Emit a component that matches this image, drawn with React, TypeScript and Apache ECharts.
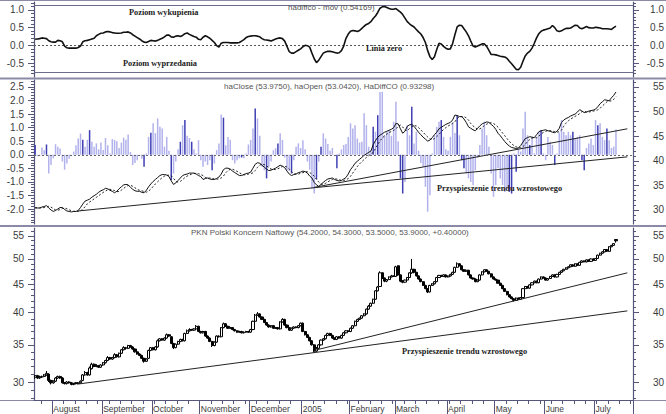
import React, { useEffect, useRef } from "react";
import * as echarts from "echarts";

// ---------- DATA ----------
const closes = [
  30.8, 30.5, 30.6, 30.7, 30.9, 31.1, 30.2, 29.9, 30.1, 30.5,
  30.7, 30.5, 29.9, 29.8, 30.0, 29.9, 29.7, 29.8, 29.8, 29.9,
  30.1, 30.9, 31.2, 30.9, 31.8, 32.3, 32.0, 32.1, 31.9, 32.2,
  32.5, 32.8, 33.2, 33.0, 33.2, 33.6, 33.3, 33.8, 34.3, 34.6,
  34.5, 34.9, 34.7, 34.4, 34.0, 33.7, 33.5, 33.1, 32.7, 33.0,
  34.2, 34.6, 34.3, 34.7, 35.6, 35.9, 35.7, 36.0, 36.5, 36.3,
  35.2, 34.6, 35.1, 35.5, 35.8, 35.6, 36.7, 37.1, 37.3, 37.2,
  37.4, 37.8, 37.0, 36.8, 37.0, 36.3, 36.0, 35.5, 34.9, 35.4,
  36.3, 36.2, 37.6, 38.2, 37.8, 37.5, 37.6, 37.3, 37.1, 36.9,
  37.0, 36.8, 36.9, 37.0, 36.9, 37.3, 38.6, 39.6, 39.8, 39.3,
  38.9, 38.4, 38.0, 37.7, 37.9, 37.5, 37.6, 37.4, 38.5, 38.9,
  38.0, 37.6, 37.2, 37.5, 37.7, 37.6, 37.9, 38.3, 37.0, 36.5,
  36.1, 35.6, 35.0, 34.1, 34.5, 35.0, 35.7, 35.9, 36.4, 36.7,
  36.4, 36.0, 35.8, 36.2, 36.0, 36.4, 36.8, 37.1, 37.0, 37.5,
  37.9, 38.6, 38.9, 39.1, 39.5, 39.8, 40.6, 41.1, 41.6, 42.3,
  43.8, 44.5, 47.2, 46.2, 45.6, 45.9, 46.4, 46.6, 46.5, 48.4,
  46.8, 45.6, 45.4, 45.8, 46.3, 47.2, 47.9, 47.3, 46.6, 46.0,
  45.5, 44.8, 44.2, 43.6, 44.8, 45.1, 45.5, 46.3, 46.7, 46.5,
  46.8, 46.4, 46.6, 46.9, 47.3, 48.3, 49.0, 48.6, 47.8, 47.5,
  47.7, 46.8, 46.2, 46.0, 45.5, 45.8, 46.8, 47.4, 47.8, 47.5,
  47.0, 46.4, 46.0, 45.8, 45.2, 44.8, 44.2, 43.7, 43.1, 42.7,
  42.4, 42.1, 42.5, 42.3, 42.6, 44.2, 44.6, 44.3, 44.9, 45.3,
  45.6, 45.3, 46.0, 46.4, 46.2, 45.8, 46.1, 46.5, 46.8, 46.4,
  46.9, 47.3, 47.6, 47.9, 48.2, 48.4, 48.8, 48.5, 49.0, 48.7,
  49.3, 49.6, 49.4, 49.8, 49.5, 50.0, 49.7, 50.1, 50.8, 51.2,
  51.5, 52.0, 51.6, 52.6, 52.9, 53.3, 53.9,
];

const opens = [
  30.6, 30.8, 30.5, 30.6, 30.7, 30.9, 31.0, 30.2, 29.9, 30.1,
  30.5, 30.7, 30.5, 29.9, 29.8, 30.0, 29.9, 29.7, 29.9, 29.8,
  29.9, 30.2, 30.9, 31.2, 30.9, 31.7, 32.3, 32.0, 32.1, 31.9,
  32.2, 32.5, 32.8, 33.2, 33.0, 33.2, 33.6, 33.3, 33.8, 34.3,
  34.6, 34.5, 34.9, 34.7, 34.4, 34.0, 33.7, 33.5, 33.1, 32.7,
  33.1, 34.2, 34.6, 34.3, 34.7, 35.6, 35.9, 35.7, 36.0, 36.5,
  36.2, 35.2, 34.6, 35.1, 35.5, 35.8, 35.6, 36.7, 37.1, 37.3,
  37.2, 37.4, 37.8, 37.0, 36.8, 37.0, 36.3, 36.0, 35.5, 34.9,
  35.4, 36.3, 36.2, 37.6, 38.2, 37.8, 37.5, 37.6, 37.3, 37.1,
  36.9, 37.0, 36.8, 36.9, 37.0, 36.9, 37.3, 38.6, 39.6, 39.8,
  39.3, 38.9, 38.4, 38.0, 37.7, 37.9, 37.5, 37.6, 37.4, 38.5,
  38.9, 38.0, 37.6, 37.2, 37.5, 37.7, 37.6, 37.9, 38.3, 37.0,
  36.5, 36.1, 35.6, 35.0, 34.1, 34.5, 35.0, 35.7, 35.9, 36.4,
  36.7, 36.4, 36.0, 35.8, 36.2, 36.0, 36.4, 36.8, 37.1, 37.0,
  37.5, 37.9, 38.6, 38.9, 39.1, 39.5, 39.8, 40.6, 41.1, 41.6,
  42.3, 43.8, 44.6, 47.2, 46.2, 45.6, 45.9, 46.4, 46.6, 46.5,
  48.6, 46.8, 45.6, 45.4, 45.8, 46.3, 47.2, 47.9, 47.3, 46.6,
  46.0, 45.5, 44.8, 44.2, 43.6, 44.8, 45.1, 45.5, 46.3, 46.7,
  46.5, 46.8, 46.4, 46.6, 46.9, 47.3, 48.3, 49.0, 48.6, 47.8,
  47.5, 47.7, 46.8, 46.2, 46.0, 45.5, 45.8, 46.8, 47.4, 47.8,
  47.5, 47.0, 46.4, 46.0, 45.8, 45.2, 44.8, 44.2, 43.7, 43.1,
  42.7, 42.4, 42.1, 42.5, 42.3, 42.6, 44.2, 44.6, 44.3, 44.9,
  45.3, 45.6, 45.3, 46.0, 46.4, 46.2, 45.8, 46.1, 46.5, 46.8,
  46.4, 46.9, 47.3, 47.6, 47.9, 48.2, 48.4, 48.8, 48.5, 49.0,
  48.7, 49.3, 49.6, 49.4, 49.8, 49.5, 50.0, 49.7, 50.1, 50.8,
  51.2, 51.5, 52.0, 51.6, 52.6, 52.9, 54.2,
];

const highs = [
  30.9, 30.9, 30.8, 30.8, 31.0, 31.4, 31.1, 30.3, 30.2, 30.6,
  30.8, 30.8, 30.6, 30.0, 30.1, 30.1, 30.0, 29.9, 30.0, 30.0,
  30.2, 31.0, 31.4, 31.3, 32.0, 32.5, 32.4, 32.3, 32.2, 32.3,
  32.6, 32.9, 33.4, 33.3, 33.3, 33.8, 33.7, 33.9, 34.4, 34.8,
  34.7, 35.0, 35.0, 34.8, 34.5, 34.1, 33.8, 33.6, 33.2, 33.1,
  34.3, 34.7, 34.7, 34.8, 35.8, 36.0, 36.0, 36.1, 36.7, 36.6,
  36.3, 35.3, 35.2, 35.6, 35.9, 35.9, 36.8, 37.3, 37.5, 37.4,
  37.5, 38.0, 37.9, 37.1, 37.1, 37.1, 36.4, 36.1, 35.6, 35.5,
  36.4, 36.4, 37.7, 38.4, 38.3, 37.9, 37.7, 37.7, 37.4, 37.2,
  37.1, 37.1, 37.0, 37.1, 37.1, 37.4, 38.7, 39.8, 40.1, 39.9,
  39.4, 39.0, 38.5, 38.1, 38.0, 38.0, 37.7, 37.7, 38.6, 39.1,
  39.0, 38.1, 37.7, 37.6, 37.8, 37.8, 38.0, 38.4, 38.4, 37.1,
  36.6, 36.2, 35.7, 35.1, 34.7, 35.1, 35.8, 36.0, 36.5, 36.8,
  36.8, 36.5, 36.1, 36.3, 36.3, 36.5, 36.9, 37.2, 37.2, 37.6,
  38.0, 38.7, 39.0, 39.2, 39.6, 39.9, 40.7, 41.3, 41.7, 42.4,
  43.9, 44.7, 47.5, 47.3, 46.3, 46.0, 46.5, 46.8, 46.7, 48.6,
  48.7, 46.9, 45.8, 45.9, 46.4, 47.3, 50.0, 48.0, 47.4, 46.7,
  46.1, 45.6, 44.9, 44.3, 44.9, 45.2, 45.6, 46.4, 46.8, 46.8,
  46.9, 46.9, 46.7, 47.0, 47.4, 48.4, 49.3, 49.1, 48.7, 47.9,
  47.8, 47.8, 46.9, 46.3, 46.1, 45.9, 46.9, 47.5, 47.9, 47.9,
  47.6, 47.1, 46.5, 46.1, 45.9, 45.3, 44.9, 44.3, 43.8, 43.2,
  42.8, 42.5, 42.6, 42.6, 42.7, 44.3, 44.7, 44.7, 45.0, 45.4,
  45.7, 45.7, 46.1, 46.5, 46.5, 46.3, 46.2, 46.6, 46.9, 46.9,
  47.0, 47.4, 47.7, 48.0, 48.3, 48.5, 48.9, 48.9, 49.1, 49.1,
  49.4, 49.7, 49.7, 49.9, 49.9, 50.1, 50.1, 50.2, 50.9, 51.3,
  51.6, 52.1, 52.1, 52.7, 53.0, 53.4, 54.3,
];

const lows = [
  30.4, 30.4, 30.4, 30.5, 30.6, 30.8, 30.0, 29.7, 29.8, 30.0,
  30.4, 30.4, 29.8, 29.7, 29.7, 29.8, 29.6, 29.6, 29.7, 29.7,
  29.8, 30.1, 30.8, 30.8, 30.8, 31.6, 31.9, 31.9, 31.8, 31.8,
  32.1, 32.4, 32.7, 32.9, 32.9, 33.1, 33.2, 33.2, 33.7, 34.2,
  34.3, 34.4, 34.6, 34.3, 33.9, 33.6, 33.4, 33.0, 32.5, 32.6,
  33.0, 34.1, 34.2, 34.2, 34.6, 35.5, 35.6, 35.6, 35.9, 36.2,
  35.1, 34.4, 34.5, 35.0, 35.4, 35.5, 35.5, 36.6, 37.0, 37.1,
  37.1, 37.3, 36.9, 36.7, 36.7, 36.2, 35.9, 35.4, 34.7, 34.8,
  35.3, 36.1, 36.1, 37.5, 37.7, 37.4, 37.4, 37.2, 37.0, 36.8,
  36.8, 36.7, 36.7, 36.8, 36.8, 36.8, 37.2, 38.5, 39.5, 39.2,
  38.8, 38.3, 37.9, 37.6, 37.6, 37.4, 37.4, 37.3, 37.3, 38.4,
  37.9, 37.5, 37.1, 37.1, 37.4, 37.5, 37.5, 37.8, 36.9, 36.4,
  36.0, 35.5, 34.9, 33.9, 34.0, 34.4, 34.9, 35.6, 35.8, 36.3,
  36.3, 35.9, 35.7, 35.7, 35.9, 35.9, 36.3, 36.7, 36.9, 36.9,
  37.4, 37.8, 38.5, 38.8, 39.0, 39.4, 39.7, 40.5, 41.0, 41.5,
  42.2, 43.7, 44.5, 46.0, 45.4, 45.4, 45.8, 46.3, 46.4, 46.4,
  46.6, 45.4, 45.2, 45.3, 45.7, 46.2, 47.0, 47.1, 46.5, 45.9,
  45.4, 44.7, 44.1, 43.4, 43.5, 44.7, 45.0, 45.4, 46.2, 46.4,
  46.4, 46.3, 46.3, 46.5, 46.8, 47.2, 48.2, 48.5, 47.7, 47.4,
  47.4, 46.7, 46.1, 45.9, 45.4, 45.4, 45.7, 46.7, 47.3, 47.4,
  46.9, 46.3, 45.9, 45.7, 45.1, 44.7, 44.1, 43.6, 43.0, 42.6,
  42.3, 41.9, 42.0, 42.2, 42.2, 42.5, 44.1, 44.2, 44.2, 44.8,
  45.2, 45.2, 45.2, 45.9, 46.1, 45.7, 45.7, 46.0, 46.4, 46.3,
  46.3, 46.8, 47.2, 47.5, 47.8, 48.1, 48.3, 48.4, 48.4, 48.6,
  48.6, 49.2, 49.3, 49.3, 49.4, 49.4, 49.6, 49.6, 50.0, 50.7,
  51.1, 51.4, 51.5, 51.5, 52.5, 52.8, 53.5,
];

const haClose = [
  30.4, 30.4, 30.4, 30.6, 30.7, 30.9, 30.4, 30.0, 29.7, 29.9,
  30.2, 30.5, 30.5, 30.1, 29.8, 29.7, 29.6, 29.7, 29.7, 29.9,
  30.5, 31.2, 31.8, 32.0, 32.2, 32.6, 32.9, 33.2, 33.6, 33.9,
  34.1, 34.4, 34.3, 34.0, 33.8, 33.5, 33.8, 34.3, 34.7, 35.1,
  35.2, 35.1, 34.6, 34.2, 33.9, 33.8, 33.8, 33.6, 33.5, 34.0,
  34.7, 35.3, 35.8, 36.2, 36.6, 37.0, 37.2, 37.2, 37.1, 36.8,
  35.9, 35.2, 35.5, 36.0, 36.5, 37.0, 37.2, 37.3, 37.5, 37.5,
  37.5, 37.3, 37.0, 36.8, 36.2, 36.4, 36.5, 36.3, 36.2, 36.2,
  36.4, 36.7, 37.3, 38.2, 38.5, 38.5, 38.3, 37.9, 37.6, 37.3,
  37.0, 37.0, 37.2, 37.4, 37.5, 37.7, 38.5, 39.3, 39.6, 39.5,
  39.1, 38.7, 38.3, 38.0, 38.1, 38.3, 38.5, 38.8, 39.1, 38.9,
  38.6, 37.9, 37.3, 37.0, 37.2, 37.3, 37.6, 37.7, 37.9, 37.8,
  37.5, 36.9, 36.5, 35.6, 35.1, 34.8, 35.2, 35.6, 36.0, 36.3,
  36.4, 36.5, 36.2, 36.0, 35.9, 36.0, 36.3, 36.6, 37.3, 38.2,
  38.8, 39.5, 39.9, 40.3, 40.7, 41.1, 41.4, 41.7, 42.0, 43.3,
  44.1, 44.8, 45.2, 45.5, 45.8, 46.0, 46.2, 46.4, 46.7, 47.6,
  47.5, 46.5, 45.6, 46.0, 47.0, 47.3, 47.4, 47.0, 46.4, 45.8,
  45.3, 44.8, 44.4, 44.0, 44.2, 44.7, 45.3, 45.8, 46.5, 46.8,
  47.1, 47.4, 47.6, 47.8, 48.3, 49.3, 49.2, 49.0, 49.0, 48.5,
  47.8, 46.9, 46.6, 46.3, 46.1, 46.6, 47.1, 47.5, 47.7, 47.9,
  47.8, 47.4, 47.0, 46.4, 45.6, 45.1, 44.5, 43.9, 43.4, 43.0,
  42.7, 42.6, 42.5, 42.6, 43.1, 43.8, 44.5, 44.7, 44.9, 44.8,
  44.7, 45.3, 45.9, 46.1, 46.2, 46.3, 46.1, 46.0, 45.8, 45.7,
  46.0, 46.6, 47.8, 48.3, 48.6, 48.8, 49.1, 49.3, 49.5, 49.9,
  50.4, 50.1, 49.8, 49.9, 50.1, 50.2, 50.3, 50.5, 51.0, 51.6,
  52.0, 52.4, 52.3, 52.2, 52.8, 53.3, 53.975,
];

const haOpen = [
  30.5, 30.45, 30.43, 30.41, 30.5, 30.6, 30.75, 30.58, 30.29, 30.0,
  29.95, 30.08, 30.29, 30.4, 30.25, 30.03, 29.86, 29.73, 29.72, 29.71,
  29.8, 30.15, 30.68, 31.24, 31.62, 31.91, 32.26, 32.58, 32.89, 33.25,
  33.57, 33.84, 34.12, 34.21, 34.1, 33.95, 33.73, 33.76, 34.03, 34.37,
  34.73, 34.97, 35.03, 34.82, 34.51, 34.2, 34.0, 33.9, 33.75, 33.62,
  33.81, 34.26, 34.78, 35.29, 35.74, 36.17, 36.58, 36.89, 37.05, 37.07,
  36.94, 36.42, 35.81, 35.66, 35.83, 36.16, 36.58, 36.89, 37.1, 37.3,
  37.4, 37.45, 37.38, 37.19, 37.0, 36.6, 36.5, 36.5, 36.4, 36.3,
  36.25, 36.33, 36.51, 36.9, 37.55, 38.03, 38.26, 38.28, 38.09, 37.85,
  37.57, 37.29, 37.14, 37.17, 37.29, 37.39, 37.55, 38.02, 38.66, 39.13,
  39.32, 39.21, 38.95, 38.63, 38.31, 38.2, 38.25, 38.38, 38.59, 38.84,
  38.87, 38.74, 38.32, 37.81, 37.4, 37.3, 37.3, 37.45, 37.58, 37.74,
  37.77, 37.63, 37.27, 36.88, 36.24, 35.67, 35.23, 35.22, 35.41, 35.7,
  36.0, 36.2, 36.35, 36.28, 36.14, 36.02, 36.01, 36.15, 36.38, 36.84,
  37.52, 38.16, 38.83, 39.37, 39.83, 40.27, 40.68, 41.04, 41.37, 41.69,
  42.49, 43.3, 44.05, 44.62, 45.06, 45.43, 45.72, 45.96, 46.18, 46.44,
  47.02, 47.26, 46.88, 46.24, 46.12, 46.56, 46.93, 47.17, 47.08, 46.74,
  46.27, 45.78, 45.29, 44.85, 44.42, 44.31, 44.5, 44.9, 45.35, 45.92,
  46.36, 46.73, 47.06, 47.33, 47.57, 47.93, 48.62, 48.91, 48.95, 48.98,
  48.74, 48.27, 47.58, 47.09, 46.7, 46.4, 46.5, 46.8, 47.15, 47.43,
  47.66, 47.73, 47.57, 47.28, 46.84, 46.22, 45.66, 45.08, 44.49, 43.95,
  43.47, 43.09, 42.84, 42.67, 42.64, 42.87, 43.33, 43.92, 44.31, 44.6,
  44.7, 44.7, 45.0, 45.45, 45.77, 45.99, 46.14, 46.12, 46.06, 45.93,
  45.82, 45.91, 46.25, 47.03, 47.66, 48.13, 48.47, 48.78, 49.04, 49.27,
  49.59, 49.99, 50.05, 49.92, 49.91, 50.0, 50.1, 50.2, 50.35, 50.67,
  51.14, 51.57, 51.98, 52.14, 52.17, 52.49, 53.042,
];

const haDiffCO = [
  0.36, -0.05, -0.04, 0.27, 0.17, 0.38, -0.69, -0.38, -0.13, 0.39,
  0.30, 0.23, -0.25, -0.55, -0.32, -0.15, -0.05, 0.12, 0.35, 0.60,
  0.78, 0.55, 0.30, 0.55, 0.91, 0.48, 0.30, 0.42, 0.20, 0.45,
  0.18, 0.62, 0.35, 0.05, 0.58, 0.55, 0.50, 0.25, 0.45, 0.63,
  0.55, 0.75, 0.10, -0.38, -0.30, -0.20, -0.05, -0.15, -0.44, 0.05,
  0.66, 0.81, 1.16, 0.80, 1.34, 1.03, 0.97, 0.30, 0.66, 0.15,
  -0.93, -0.69, -0.25, 0.20, 0.48, 1.09, 1.28, 0.70, 0.62, 0.48,
  0.20, 0.05, 0.54, -0.20, -0.44, -0.25, -0.38, -0.20, -0.57, -0.32,
  0.17, 0.42, 1.49, 1.37, 0.35, 0.66, 0.55, -0.20, -0.32, -0.20,
  -0.13, -0.10, -0.13, 0.05, 0.38, 0.55, 0.97, 1.71, 1.34, 0.70,
  -0.44, -0.57, -0.87, -0.44, -0.25, 0.17, 0.24, 0.42, 0.79, 0.55,
  -0.10, -0.57, -0.60, -0.69, -0.20, 0.30, 0.42, 0.25, 0.54, 0.20,
  -0.25, -0.55, -1.24, -1.43, -0.90, -0.26, 0.30, 0.79, 0.60, 0.40,
  0.15, 0.25, -0.05, -0.50, 0.05, 0.20, 0.36, 0.40, 0.66, 1.16,
  0.97, 1.09, 0.60, 0.45, 0.48, 1.53, 1.09, 0.30, 0.15, 1.03,
  0.85, 1.46, 2.32, 2.32, 0.72, 0.85, 0.91, 0.70, 1.22, 1.96,
  0.50, -0.87, -1.43, -1.00, 1.09, 0.72, 1.77, 0.42, 0.85, 0.15,
  -0.30, -0.44, -1.18, -2.10, -1.49, 0.05, 0.72, 1.03, 1.22, 1.28,
  0.66, 0.20, 0.15, 0.66, 1.20, 0.80, 1.46, 0.72, -0.20, -0.50,
  -0.69, -0.87, -1.00, -1.12, -0.57, -0.10, 0.36, 0.97, 1.22, 0.72,
  0.30, -0.69, -1.55, -1.12, -0.50, -0.87, -1.12, -1.37, -1.25, -1.37,
  -1.43, 0.05, -0.63, 0.25, 0.12, 0.97, 1.59, 0.72, 0.36, 0.66,
  0.05, 0.66, 0.85, 0.91, 0.05, -0.20, 0.66, 0.48, 0.36, -0.38,
  0.05, 0.82, 1.28, 0.85, 0.72, 0.85, 0.72, 0.85, 0.60, 0.66,
  0.72, -0.20, -0.57, 0.25, 0.42, 0.60, 0.36, 1.28, 1.09, 1.16,
  0.66, 0.54, 0.97, 0.54, 0.25, 0.30, 0.93298,
];

const darkBarDays = [
  0, 5, 21, 24, 48, 51, 60, 64, 66, 69, 78, 83, 91, 97, 102, 107, 113, 124, 126,
  133, 149, 151, 161, 162, 166, 179, 186, 188, 189, 209, 210, 212, 218, 223, 229,
  237, 241, 242, 248, 252,
];

const hadiffcoMov = [
  0.17, 0.18, 0.19, 0.21, 0.20, 0.19, 0.13, 0.10, 0.09, 0.09,
  0.14, 0.13, 0.10, -0.02, -0.07, -0.08, -0.08, -0.08, -0.08, -0.06,
  -0.02, 0.10, 0.13, 0.14, 0.16, 0.18, 0.20, 0.27, 0.31, 0.34,
  0.35, 0.38, 0.39, 0.38, 0.36, 0.35, 0.34, 0.34, 0.35, 0.37,
  0.37, 0.38, 0.35, 0.30, 0.26, 0.22, 0.18, 0.13, 0.09, 0.08,
  0.11, 0.14, 0.13, 0.12, 0.14, 0.17, 0.20, 0.24, 0.29, 0.29,
  0.24, 0.23, 0.26, 0.27, 0.25, 0.28, 0.33, 0.35, 0.31, 0.28,
  0.25, 0.23, 0.17, 0.16, 0.23, 0.27, 0.24, 0.20, 0.14, 0.08,
  -0.01, -0.05, 0.06, 0.08, 0.08, 0.08, 0.07, 0.07, 0.07, 0.07,
  0.08, 0.12, 0.16, 0.22, 0.25, 0.26, 0.27, 0.27, 0.26, 0.24,
  0.19, 0.16, 0.15, 0.14, 0.12, 0.15, 0.18, 0.20, 0.21, 0.19,
  0.12, -0.03, -0.18, -0.22, -0.22, -0.18, -0.14, -0.10, -0.04, 0.00,
  -0.01, -0.05, -0.22, -0.38, -0.49, -0.42, -0.32, -0.22, -0.19, -0.17,
  -0.17, -0.18, -0.20, -0.22, -0.21, -0.15, -0.02, 0.20, 0.32, 0.40,
  0.42, 0.41, 0.39, 0.42, 0.48, 0.54, 0.59, 0.62, 0.67, 0.76,
  0.83, 0.93, 1.05, 1.09, 1.10, 1.07, 1.04, 1.02, 1.02, 1.04,
  0.99, 0.94, 0.87, 0.77, 0.67, 0.61, 0.56, 0.52, 0.45, 0.38,
  0.32, 0.22, 0.08, -0.15, -0.32, -0.40, -0.32, -0.12, 0.06, 0.04,
  -0.03, -0.08, -0.11, -0.10, 0.05, 0.30, 0.52, 0.57, 0.56, 0.47,
  0.38, 0.27, 0.12, -0.02, -0.05, -0.02, 0.01, 0.04, 0.04, -0.03,
  -0.14, -0.26, -0.26, -0.27, -0.29, -0.31, -0.32, -0.33, -0.37, -0.45,
  -0.52, -0.60, -0.68, -0.69, -0.62, -0.45, -0.30, -0.22, -0.17, -0.08,
  0.06, 0.21, 0.33, 0.40, 0.43, 0.45, 0.47, 0.49, 0.56, 0.50,
  0.41, 0.39, 0.41, 0.45, 0.48, 0.48, 0.49, 0.53, 0.57, 0.56,
  0.49, 0.47, 0.50, 0.53, 0.50, 0.49, 0.49, 0.51, 0.50, 0.49,
  0.47, 0.47, 0.47, 0.46, 0.45, 0.50, 0.54169,
];

// trend lines: [day index, value]
const midTrendLower = [[19, 29.8], [261, 40.8]];
const midTrendUpper = [[123, 34.6], [261, 46.5]];
const priceTrendLower = [[19, 29.75], [261, 40.3]];
const priceTrendUpper = [[123, 34.2], [261, 47.2]];

// oscillator reference levels
const oscLevels = [1.14, -0.755];

// tick labels
const oscTicks = [-0.5, 0, 0.5, 1.0];
const diffTicks = [-2.0, -1.5, -1.0, -0.5, 0, 0.5, 1.0, 1.5, 2.0, 2.5];
const priceTicks = [30, 35, 40, 45, 50, 55];
const monthLabels = [
  "2005", "February", "March", "April", "May", "June", "July",
  "August", "September", "October", "November", "December",
];

const FIRST_DAY = "2004-07-21";
const N_SLOTS = 264;

// ---------- helpers ----------
function buildDays(): string[] {
  const out: string[] = [];
  let t = Date.parse(FIRST_DAY + "T00:00:00Z");
  while (out.length < N_SLOTS) {
    const d = new Date(t);
    const wd = d.getUTCDay();
    if (wd !== 0 && wd !== 6) out.push(d.toISOString().slice(0, 10));
    t += 86400000;
  }
  return out;
}

function range(a: number, b: number, step: number): number[] {
  const r: number[] = [];
  for (let v = a; v <= b + 1e-9; v += step) r.push(Math.round(v * 1000) / 1000);
  return r;
}

const AX = "#56567a";
const LBL = "#3c3c3c";
const SANS = "Liberation Sans";

function yPair(
  grid: number,
  pos: "left" | "right",
  min: number,
  max: number,
  major: number[],
  minor: number[],
  fmt: (v: number) => string
) {
  return [
    {
      type: "value",
      gridIndex: grid,
      position: pos,
      min,
      max,
      splitLine: { show: false },
      axisLine: { show: true, lineStyle: { color: AX, width: 1.2 } },
      axisTick: { show: true, customValues: major, length: 6, lineStyle: { color: AX } },
      axisLabel: {
        show: true,
        customValues: major,
        formatter: fmt,
        margin: pos === "left" ? 10 : 31,
        align: "right",
        color: LBL,
        fontSize: 10,
        fontFamily: SANS,
      },
    },
    {
      type: "value",
      gridIndex: grid,
      position: pos,
      min,
      max,
      splitLine: { show: false },
      axisLine: { show: false },
      axisTick: { show: true, customValues: minor, length: 3, lineStyle: { color: AX } },
      axisLabel: { show: false },
    },
  ];
}

function buildOption() {
  const days = buildDays();
  const monthStart = new Set<number>();
  const monday = new Set<number>();
  days.forEach((d, i) => {
    if (new Date(d + "T00:00:00Z").getUTCDay() === 1) monday.add(i);
    if (i > 0 && days[i - 1].slice(5, 7) !== d.slice(5, 7)) monthStart.add(i);
  });
  const dark = new Set(darkBarDays);

  const oscMin = -0.896, oscMax = 1.226;
  const dMin = -2.553, dMax = 2.758;
  const pMin = 27.15, pMax = 56.42;
  const lMin = 3.3265, lMax = 4.0405;

  const f1 = (v: number) => v.toFixed(1);
  const fP = (v: number) => String(Math.round(v));
  const fL = (v: number) => String(Math.round(Math.exp(v)));

  const lnTicks = priceTicks.map((p) => Math.log(p));
  const lnMinor = range(28, 56, 1).map((p) => Math.log(p));

  const yAxis = [
    ...yPair(0, "left", oscMin, oscMax, oscTicks, range(-0.8, 1.2, 0.1), f1),
    ...yPair(0, "right", oscMin, oscMax, oscTicks, range(-0.8, 1.2, 0.1), f1),
    ...yPair(1, "left", dMin, dMax, diffTicks, range(-2.5, 2.7, 0.1), f1),
    ...yPair(1, "right", pMin, pMax, priceTicks, range(28, 56, 1), fP),
    ...yPair(2, "left", lMin, lMax, lnTicks, lnMinor, fL),
    ...yPair(2, "right", lMin, lMax, lnTicks, lnMinor, fL),
  ];

  const grids = [
    { left: 34, right: 33, top: 2, height: 75 },
    { left: 34, right: 33, top: 80, height: 144 },
    { left: 34, right: 33, top: 228, height: 172 },
  ].map((g) => ({ ...g, show: false, containLabel: false, outerBoundsMode: "none" }));

  const xAxis = [
    { type: "category", gridIndex: 0, data: days, show: false, axisLine: { onZero: false } },
    { type: "category", gridIndex: 1, data: days, show: false, axisLine: { onZero: false } },
    {
      type: "category",
      gridIndex: 2,
      data: days,
      position: "bottom",
      axisLine: { show: false, onZero: false },
      axisTick: { show: true, interval: (i: number) => monday.has(i), length: 4, lineStyle: { color: AX } },
      axisLabel: { show: false },
      splitLine: { show: false },
    },
    {
      type: "category",
      gridIndex: 2,
      data: days,
      position: "bottom",
      axisLine: { show: true, onZero: false, lineStyle: { color: AX } },
      axisTick: { show: true, interval: (i: number) => monthStart.has(i), length: 14, lineStyle: { color: AX } },
      axisLabel: {
        show: true,
        interval: (i: number) => monthStart.has(i),
        formatter: (v: string) => monthLabels[Number(v.slice(5, 7)) - 1],
        align: "left",
        margin: 4,
        fontSize: 8.5,
        color: LBL,
        fontFamily: SANS,
      },
      splitLine: { show: false },
    },
  ];

  const candles = closes.map((c, i) => [
    Math.log(opens[i]),
    Math.log(c),
    Math.log(lows[i]),
    Math.log(highs[i]),
  ]);

  const lineStyleTrend = { color: "#222", width: 1 };

  const series: any[] = [
    {
      type: "line",
      xAxisIndex: 0,
      yAxisIndex: 0,
      data: hadiffcoMov,
      symbol: "none",
      silent: true,
      z: 5,
      lineStyle: { color: "#111", width: 1.6 },
      markLine: {
        silent: true,
        symbol: ["none", "none"],
        label: { show: false },
        animation: false,
        data: [
          { yAxis: oscLevels[0], lineStyle: { color: "#6c6c8c", width: 1, type: "solid" } },
          { yAxis: oscLevels[1], lineStyle: { color: "#6c6c8c", width: 1, type: "solid" } },
          { yAxis: 0, lineStyle: { color: "#555", width: 1, type: [2, 2] } },
        ],
      },
    },
    {
      type: "bar",
      xAxisIndex: 1,
      yAxisIndex: 4,
      data: haDiffCO,
      barWidth: 1.5,
      silent: true,
      itemStyle: {
        color: (p: any) => (dark.has(p.dataIndex) ? "#3f3fb4" : "#b2b2ec"),
      },
      markLine: {
        silent: true,
        symbol: ["none", "none"],
        label: { show: false },
        data: [{ yAxis: 0, lineStyle: { color: "#666", width: 1, type: [2, 2] } }],
      },
    },
    {
      type: "line",
      xAxisIndex: 1,
      yAxisIndex: 6,
      data: haOpen,
      symbol: "none",
      silent: true,
      lineStyle: { color: "#222", width: 1, type: [2, 2] },
    },
    {
      type: "line",
      xAxisIndex: 1,
      yAxisIndex: 6,
      data: haClose,
      symbol: "none",
      silent: true,
      lineStyle: { color: "#111", width: 1 },
    },
    { type: "line", xAxisIndex: 1, yAxisIndex: 6, data: midTrendLower, symbol: "none", silent: true, lineStyle: lineStyleTrend },
    { type: "line", xAxisIndex: 1, yAxisIndex: 6, data: midTrendUpper, symbol: "none", silent: true, lineStyle: lineStyleTrend },
    {
      type: "candlestick",
      xAxisIndex: 3,
      yAxisIndex: 8,
      data: candles,
      barWidth: 2.6,
      silent: true,
      large: false,
      itemStyle: {
        color: "#ffffff",
        color0: "#000000",
        borderColor: "#000000",
        borderColor0: "#000000",
        borderWidth: 1,
      },
    },
    {
      type: "line",
      xAxisIndex: 3,
      yAxisIndex: 8,
      data: priceTrendLower.map(([i, v]) => [i, Math.log(v)]),
      symbol: "none",
      silent: true,
      lineStyle: lineStyleTrend,
    },
    {
      type: "line",
      xAxisIndex: 3,
      yAxisIndex: 8,
      data: priceTrendUpper.map(([i, v]) => [i, Math.log(v)]),
      symbol: "none",
      silent: true,
      lineStyle: lineStyleTrend,
    },
  ];

  const SEP = "#8a8aa6";
  const txt = (x: number, y: number, text: string, font: string, fill: string) => ({
    type: "text",
    x,
    y,
    z: 50,
    silent: true,
    style: { text, font, fill, verticalAlign: "middle", align: "left" },
  });
  const SERIF_B = 'bold 8.3px "Liberation Serif"';
  const SANS_S = '8px "Liberation Sans"';

  const graphic = [
    { type: "line", silent: true, shape: { x1: 0, y1: 0.5, x2: 666, y2: 0.5 }, style: { stroke: SEP, lineWidth: 1 } },
    { type: "line", silent: true, shape: { x1: 0, y1: 78.5, x2: 666, y2: 78.5 }, style: { stroke: SEP, lineWidth: 2 } },
    { type: "line", silent: true, shape: { x1: 0, y1: 226, x2: 666, y2: 226 }, style: { stroke: SEP, lineWidth: 2 } },
    { type: "line", silent: true, shape: { x1: 0, y1: 400.5, x2: 666, y2: 400.5 }, style: { stroke: SEP, lineWidth: 1 } },
    txt(288, 7, "hadiffco - mov (0.54169)", SANS_S, "#555"),
    txt(129, 12, "Poziom wykupienia", SERIF_B, "#1a1a1a"),
    txt(123, 63, "Poziom wyprzedania", SERIF_B, "#1a1a1a"),
    txt(366, 48.5, "Linia zero", SERIF_B, "#1a1a1a"),
    txt(224, 86.5, "haClose (53.9750), haOpen (53.0420), HaDiffCO (0.93298)", SANS_S, "#555"),
    txt(437, 188.5, "Przyspieszenie trendu wzrostowego", SERIF_B, "#1a1a1a"),
    txt(191, 232.5, "PKN Polski Koncern Naftowy (54.2000, 54.3000, 53.5000, 53.9000, +0.40000)", SANS_S, "#555"),
    txt(402, 351.5, "Przyspieszenie trendu wzrostowego", SERIF_B, "#1a1a1a"),
  ];

  return {
    animation: false,
    backgroundColor: "#ffffff",
    grid: grids,
    xAxis,
    yAxis,
    series,
    graphic,
  };
}

export default function App() {
  const ref = useRef<HTMLDivElement>(null);
  useEffect(() => {
    if (!ref.current) return;
    const chart = echarts.init(ref.current, undefined, { renderer: "svg" });
    chart.setOption(buildOption() as any);
    return () => chart.dispose();
  }, []);
  return (
    <div
      ref={ref}
      style={{ position: "fixed", left: 0, top: 0, width: 666, height: 414, background: "#fff" }}
    />
  );
}
